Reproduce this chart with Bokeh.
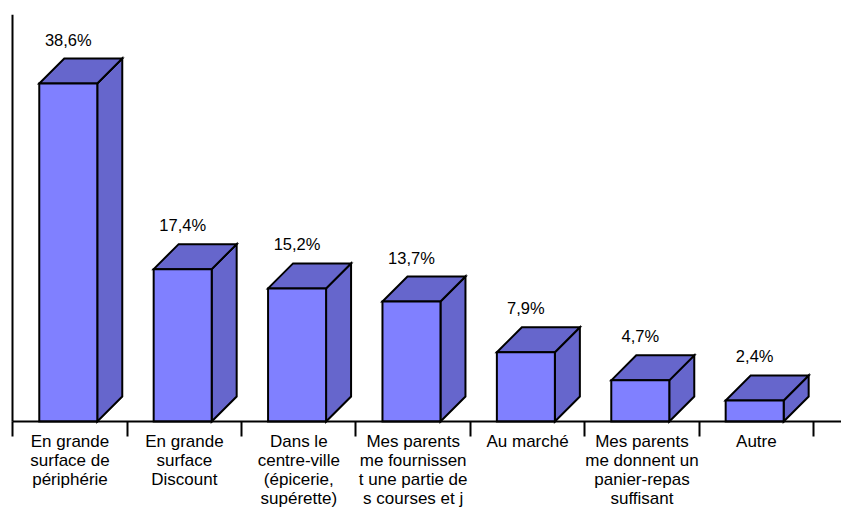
from bokeh.plotting import figure
from bokeh.models import Range1d, FixedTicker, ColumnDataSource
from bokeh.embed import file_html
from bokeh.resources import INLINE
from bokeh.core.properties import value

categories = [
    "En grande\nsurface de\npériphérie",
    "En grande\nsurface\nDiscount",
    "Dans le\ncentre-ville\n(épicerie,\nsupérette)",
    "Mes parents\nme fournissen\nt une partie de\ns courses et j",
    "Au marché",
    "Mes parents\nme donnent un\npanier-repas\nsuffisant",
    "Autre",
]
values = [38.6, 17.4, 15.2, 13.7, 7.9, 4.7, 2.4]
value_labels = ["38,6%", "17,4%", "15,2%", "13,7%", "7,9%", "4,7%", "2,4%"]

# styling / geometry (data units)
BAR_W = 0.507
BAR_SHIFT = -0.015
DX = 0.2185
DY = 2.855
FRONT = "#8080FF"
SIDE = "#6666CC"
FONT = "Liberation Sans"
Y_TOP = 46.48
X_END = 7.244

n = len(categories)
centers = [i + 0.5 for i in range(n)]
bounds = [float(i) for i in range(n + 1)]

p = figure(width=841, height=511, output_backend="svg", toolbar_location=None,
           x_range=Range1d(-0.02, X_END), y_range=Range1d(-10.279, Y_TOP),
           min_border_left=10, min_border_right=0, min_border_top=14, min_border_bottom=0)
p.outline_line_color = None
p.grid.visible = False
p.background_fill_color = "white"

front_xs, front_ys, side_xs, side_ys, top_xs, top_ys = [], [], [], [], [], []
for c, v in zip(centers, values):
    c = c + BAR_SHIFT
    l, r = c - BAR_W / 2, c + BAR_W / 2
    front_xs.append([l, r, r, l]); front_ys.append([0, 0, v, v])
    side_xs.append([r, r + DX, r + DX, r]); side_ys.append([0, DY, v + DY, v])
    top_xs.append([l, l + DX, r + DX, r]); top_ys.append([v, v + DY, v + DY, v])

for xs, ys, col in [(side_xs, side_ys, SIDE), (top_xs, top_ys, SIDE), (front_xs, front_ys, FRONT)]:
    p.patches(xs=xs, ys=ys, fill_color=col, line_color="black", line_width=2, line_join="miter")

src = ColumnDataSource(dict(x=[c + BAR_SHIFT for c in centers], y=[v + DY for v in values], t=value_labels))
p.text(x="x", y="y", text="t", source=src, text_align="center", text_baseline="alphabetic",
       y_offset=-19, text_font=value(FONT), text_font_size="16.5px", text_color="black")

# left axis line only
yax = p.yaxis[0]
yax.fixed_location = 0
yax.ticker = FixedTicker(ticks=[])
yax.bounds = (0, Y_TOP)
yax.axis_line_width = 2
yax.axis_line_color = "black"
yax.major_tick_out = 0
yax.minor_tick_out = 0

# category axis on the baseline
ax = p.xaxis[0]
ax.fixed_location = 0
ax.bounds = (0, X_END)
ax.ticker = FixedTicker(ticks=centers, minor_ticks=bounds)
ax.major_label_overrides = {c: lab for c, lab in zip(centers, categories)}
ax.major_tick_out = 0
ax.major_tick_in = 0
ax.minor_tick_in = 0
ax.minor_tick_out = 15
ax.minor_tick_line_width = 2
ax.minor_tick_line_color = "black"
ax.axis_line_width = 2
ax.axis_line_color = "black"
ax.major_label_standoff = -4
ax.major_label_text_font = FONT
ax.major_label_text_font_size = "17px"
ax.major_label_text_color = "black"
ax.major_label_text_line_height = 1.0

open("out.html", "w").write(file_html(p, INLINE))
